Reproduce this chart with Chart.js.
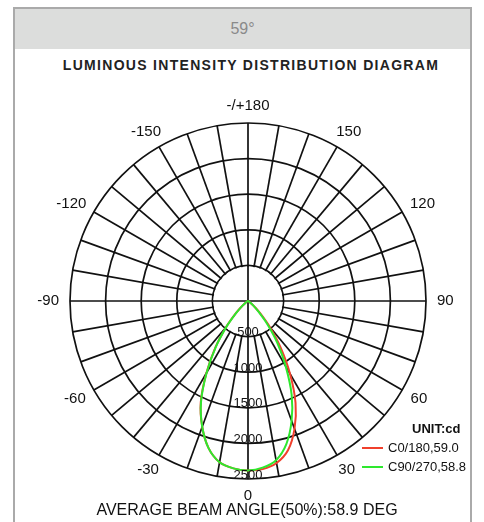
<!DOCTYPE html>
<html>
<head>
<meta charset="utf-8">
<script src="https://cdn.jsdelivr.net/npm/chart.js@4"></script>
<style>
  body { margin: 0; background: #fff; font-family: "Liberation Sans", Arial, sans-serif; }
  #page { position: relative; width: 484px; height: 522px; overflow: hidden; }
  #frame { position: absolute; left: 13px; top: 7px; width: 455px; height: 530px; border: 2px solid #aaa; }
  #head { position: absolute; left: 15px; top: 9px; width: 455px; height: 40px; background: #dcdddc;
          color: #8a8a8a; font-size: 16px; text-align: center; line-height: 40px; }
  #title { position: absolute; left: 0; width: 502px; top: 57px; text-align: center; font-size: 14px;
           font-weight: bold; letter-spacing: 1.3px; color: #222; }
  #foot { position: absolute; left: 0; width: 494px; top: 501px; text-align: center; font-size: 16px; color: #111; }
  .leg { position: absolute; font-size: 13px; color: #111; }
  .sw { position: absolute; width: 21px; height: 2px; }
  canvas { position: absolute; left: 0; top: 0; }
</style>
</head>
<body>
<div id="page">
  <div id="frame"></div>
  <div id="head">59°</div>
  <div id="title">LUMINOUS INTENSITY DISTRIBUTION DIAGRAM</div>
  <canvas id="polar" width="484" height="522"></canvas>
  <div class="leg" style="left:412px; top:421px; font-weight:bold;">UNIT:cd</div>
  <div class="sw" style="left:362px; top:447px; background:#f0402c;"></div>
  <div class="leg" style="left:388px; top:440px;">C0/180,59.0</div>
  <div class="sw" style="left:362px; top:466px; background:#2ee82e;"></div>
  <div class="leg" style="left:388px; top:459px;">C90/270,58.8</div>
  <div id="foot">AVERAGE BEAM ANGLE(50%):58.9 DEG</div>
</div>
<script>
// gamma angles (deg from nadir), one side of each plane
const gammas = [0, 5, 10, 15, 20, 25, 30, 35, 40, 45, 50, 55, 60, 65, 70, 75, 80, 85, 90,
                95, 100, 105, 110, 115, 120, 125, 130, 135, 140, 145, 150, 155, 160, 165, 170, 175, 180];

// candela values
const c0Side   = [2380, 2370, 2310, 2170, 1910, 1580, 1180, 800, 480, 240, 100, 40, 15, 5, 2, 0, 0, 0, 0,
                  0, 0, 0, 0, 0, 0, 0, 0, 0, 0, 0, 0, 0, 0, 0, 0, 0, 0];
const c180Side = [2380, 2360, 2300, 2140, 1880, 1570, 1170, 800, 480, 240, 100, 40, 15, 5, 2, 0, 0, 0, 0,
                  0, 0, 0, 0, 0, 0, 0, 0, 0, 0, 0, 0, 0, 0, 0, 0, 0, 0];
const c90Side  = [2380, 2350, 2270, 2080, 1790, 1450, 1060, 720, 420, 200, 90, 35, 12, 4, 1, 0, 0, 0, 0,
                  0, 0, 0, 0, 0, 0, 0, 0, 0, 0, 0, 0, 0, 0, 0, 0, 0, 0];
const c270Side = [2380, 2360, 2300, 2140, 1880, 1560, 1160, 790, 470, 230, 100, 40, 15, 5, 2, 0, 0, 0, 0,
                  0, 0, 0, 0, 0, 0, 0, 0, 0, 0, 0, 0, 0, 0, 0, 0, 0, 0];

const intensityTicks = [500, 1000, 1500, 2000, 2500];

// radar goes clockwise from the bottom: left side first (negative angles), then right side back to 0
const n = (gammas.length - 1) * 2;
const labels = [];
const idxSide = [];
for (let i = 0; i < n; i++) {
    if (i <= 36) { labels.push(-gammas[i]); idxSide.push(['L', i]); }
    else { labels.push(gammas[n - i]); idxSide.push(['R', n - i]); }
}
function planeData(leftArr, rightArr) {
    return idxSide.map(([s, k]) => s === 'L' ? leftArr[k] : rightArr[k]);
}

const polarLabels = {
    id: 'polarLabels',
    beforeDatasetsDraw(chart) {
        // no spokes inside the 500 cd ring, only the two axes
        const s = chart.scales.r, ctx = chart.ctx;
        const r0 = s.getDistanceFromCenterForValue(intensityTicks[0]);
        ctx.save();
        ctx.fillStyle = '#fff';
        ctx.beginPath();
        ctx.arc(s.xCenter, s.yCenter, r0 - 1, 0, Math.PI * 2);
        ctx.fill();
        ctx.strokeStyle = '#111';
        ctx.lineWidth = 1.7;
        ctx.beginPath();
        ctx.moveTo(s.xCenter - r0, s.yCenter); ctx.lineTo(s.xCenter + r0, s.yCenter);
        ctx.moveTo(s.xCenter, s.yCenter - r0); ctx.lineTo(s.xCenter, s.yCenter + r0);
        ctx.stroke();
        ctx.restore();
    },
    afterDatasetsDraw(chart) {
        const s = chart.scales.r, ctx = chart.ctx;
        ctx.save();
        ctx.fillStyle = '#111';
        ctx.textAlign = 'center';
        ctx.textBaseline = 'middle';
        // angle labels every 30 deg
        ctx.font = '15px "Liberation Sans", Arial, sans-serif';
        labels.forEach((a, i) => {
            if (Math.abs(a) % 30 !== 0) return;
            if (i > 36 && a === 0) return;
            const txt = Math.abs(a) === 180 ? '-/+180' : String(a);
            const p = s.getPointPosition(i, s.drawingArea + 11);
            const dx = p.x - s.xCenter, dy = p.y - s.yCenter, d = Math.hypot(dx, dy);
            const w = ctx.measureText(txt).width, h = 12;
            ctx.fillText(txt, p.x + dx / d * w / 2, p.y + dy / d * h / 2);
        });
        // intensity labels down the 0 axis
        ctx.font = '13px "Liberation Sans", Arial, sans-serif';
        intensityTicks.forEach(v => {
            const p = s.getPointPosition(0, s.getDistanceFromCenterForValue(v));
            ctx.fillText(String(v), p.x, p.y - 4);
        });
        ctx.restore();
    }
};

new Chart(document.getElementById('polar'), {
    type: 'radar',
    data: {
        labels: labels,
        datasets: [
            { label: 'C90/270,58.8', data: planeData(c270Side, c90Side), borderColor: '#2ee82e',
              borderWidth: 2, pointRadius: 0, fill: false, tension: 0.3 },
            { label: 'C0/180,59.0', data: planeData(c180Side, c0Side), borderColor: '#f0402c',
              borderWidth: 2, pointRadius: 0, fill: false, tension: 0.3 }
        ]
    },
    options: {
        responsive: false,
        animation: false,
        layout: { padding: { left: 70, right: 57, top: 123, bottom: 42 } },
        plugins: { legend: { display: false }, tooltip: { enabled: false } },
        scales: {
            r: {
                min: 0,
                max: 2500,
                startAngle: 180,
                ticks: { display: false, stepSize: 500 },
                pointLabels: { display: false },
                grid: { circular: true, color: '#111', lineWidth: 1.7 },
                angleLines: {
                    color: '#111',
                    lineWidth: ctx => (ctx.index % 2 === 0 ? 1.7 : 0)
                }
            }
        }
    },
    plugins: [polarLabels]
});
</script>
</body>
</html>
